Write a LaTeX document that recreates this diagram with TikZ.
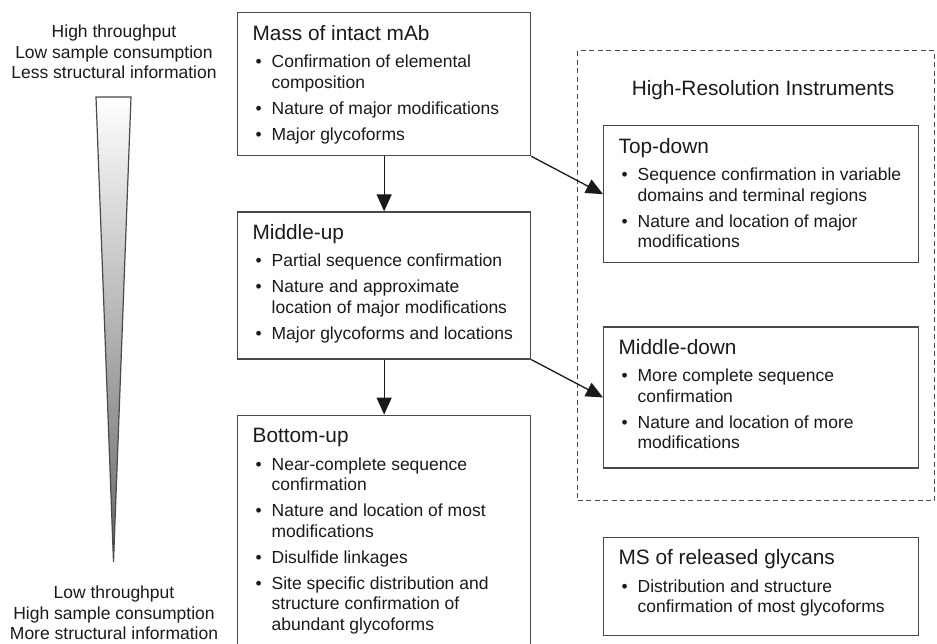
\documentclass[tikz,border=0pt]{standalone}
\usepackage{fontspec}
\setmainfont{Liberation Sans}
\usetikzlibrary{positioning,arrows.meta}
\definecolor{edge}{HTML}{4A4A4A}
\definecolor{ink}{HTML}{1A1A1A}
\newcommand{\bodyfont}{\fontsize{17.5}{20.5}\selectfont}
\newcommand{\headfont}{\fontsize{20.8}{24}\selectfont}
\newcommand{\stagetitle}[1]{{\headfont\rule{0pt}{27.5pt}#1\par}\vspace{1.5pt}}
\newcommand{\pnt}[1]{\par\vspace{5.5pt}\hangindent=19pt\hangafter=1\noindent\makebox[19pt][l]{\hspace{3pt}\textbullet}#1}
\newcommand{\stagebody}[3]{\begin{minipage}[t][#1][t]{#2}\raggedright #3\end{minipage}}

\begin{document}
\begin{tikzpicture}[x=1pt,y=1pt,font=\bodyfont,text=ink,
  stage/.style={draw=edge,line width=1.3pt,inner xsep=15pt,inner ysep=0pt},
  group/.style={draw=edge,line width=1pt,dash pattern=on 5pt off 3.5pt,inner sep=0pt},
  flow/.style={draw=ink,line width=1.3pt,-{Triangle[width=15pt,length=17pt]}},
  sidetext/.style={align=center,inner sep=0pt}]
\useasboundingbox (0,0) rectangle (937,-643);
\clip (0,0) rectangle (937,-643);

% throughput wedge
\shade[top color=white,bottom color=black!60,draw=edge,line width=1.2pt]
  (96,-97) -- (131,-97) -- (113.5,-562) -- cycle;
\node[sidetext] (fast) at (114,-52)
  {High throughput\\Low sample consumption\\Less structural information};
\node[sidetext] (deep) at (114,-613)
  {Low throughput\\High sample consumption\\More structural information};

% left column
\node[stage,anchor=north west] (mass) at (237,-12) {\stagebody{143pt}{263pt}{%
  \stagetitle{Mass of intact mAb}
  \pnt{Confirmation of elemental\newline composition}
  \pnt{Nature of major modifications}
  \pnt{Major glycoforms}}};
\node[stage,below=55pt of mass] (midup) {\stagebody{147pt}{263pt}{%
  \stagetitle{Middle-up}
  \pnt{Partial sequence confirmation}
  \pnt{Nature and approximate\newline location of major modifications}
  \pnt{Major glycoforms and locations}}};
\node[stage,below=55pt of midup] (botup) {\stagebody{245pt}{263pt}{%
  \stagetitle{Bottom-up}
  \pnt{Near-complete sequence\newline confirmation}
  \pnt{Nature and location of most\newline modifications}
  \pnt{Disulfide linkages}
  \pnt{Site specific distribution and\newline structure confirmation of\newline abundant glycoforms}}};

% high-resolution group
\node[group,anchor=north west,minimum width=357pt,minimum height=450pt] (hires) at (577,-50) {};
\node[anchor=base,font=\headfont] (hirestitle) at (763,-95) {High-Resolution Instruments};
\node[stage,anchor=north west] (topdown) at (603,-125) {\stagebody{137pt}{285pt}{%
  \stagetitle{Top-down}
  \pnt{Sequence confirmation in variable\newline domains and terminal regions}
  \pnt{Nature and location of major\newline modifications}}};
\node[stage,below=63pt of topdown] (middown) {\stagebody{141pt}{285pt}{%
  \stagetitle{Middle-down}
  \pnt{More complete sequence\newline confirmation}
  \pnt{Nature and location of more\newline modifications}}};
\node[stage,below=68pt of middown] (glycan) {\stagebody{98pt}{285pt}{%
  \stagetitle{MS of released glycans}
  \pnt{Distribution and structure\newline confirmation of most glycoforms}}};

% connectors
\draw[flow] (mass) -- (midup);
\draw[flow] (midup) -- (botup);
\draw[flow] (mass.south east) -- (topdown.west);
\draw[flow] (midup.south east) -- (middown.west);
\end{tikzpicture}
\end{document}
